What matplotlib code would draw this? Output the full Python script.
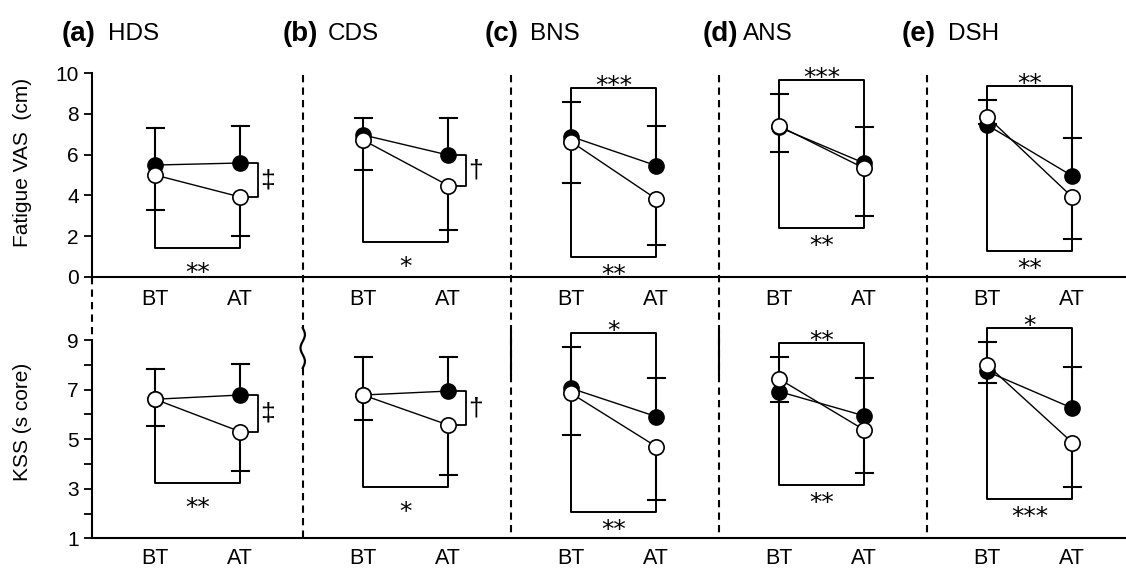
import matplotlib.pyplot as plt
import numpy as np
import matplotlib.transforms as mtransforms
from matplotlib.lines import Line2D

plt.rcParams['font.family'] = ['Liberation Sans', 'DejaVu Sans']

# panels
panel_tags = ['(a)', '(b)', '(c)', '(d)', '(e)']
panel_names = ['HDS', 'CDS', 'BNS', 'ANS', 'DSH']
times = ['BT', 'AT']

# fatigue VAS (cm), [BT, AT] per panel
vas_filled = [[5.49, 5.59], [6.97, 5.98], [6.89, 5.46], [7.35, 5.58], [7.46, 4.95]]
vas_open = [[5.00, 3.92], [6.72, 4.48], [6.64, 3.82], [7.41, 5.33], [7.87, 3.91]]
vas_sd_filled = [[1.84, 1.82], [0.82, 1.81], [1.72, 1.95], [1.62, 1.77], [1.23, 1.86]]
vas_sd_open = [[1.72, 1.93], [1.47, 2.18], [2.02, 2.26], [1.26, 2.34], [0.35, 2.07]]
vas_sig_top = ['', '', '***', '***', '**']
vas_sig_bot = ['**', '*', '**', '**', '**']

# KSS (score)
kss_filled = [[6.61, 6.78], [6.78, 6.94], [7.05, 5.91], [6.92, 5.94], [7.73, 6.25]]
kss_open = [[6.61, 5.30], [6.78, 5.57], [6.85, 4.70], [7.43, 5.37], [8.00, 4.86]]
kss_sd_filled = [[1.21, 1.25], [1.55, 1.39], [1.68, 1.55], [1.41, 1.52], [1.17, 1.65]]
kss_sd_open = [[1.07, 1.57], [1.01, 2.02], [1.68, 2.15], [0.92, 1.75], [0.74, 1.78]]
kss_sig_top = ['', '', '*', '**', '*']
kss_sig_bot = ['**', '*', '**', '**', '***']

# group difference at AT
group_sig = ['\u2021', '\u2020', '', '', '']

W, H = 1126, 571
fig = plt.figure(figsize=(W / 100, H / 100), dpi=100)


def fx(px):
    return px / W


def fy(py):
    return 1 - py / H


ax_top = fig.add_axes([fx(92), fy(276.7), fx(W - 92), (276.7 - 73.3) / H])
ax_bot = fig.add_axes([fx(92), fy(538.3), fx(W - 92), (538.3 - 340) / H])

x_bt = np.arange(5)
x_at = x_bt + 0.41
xlim = (-0.303, 4.668)
ppx = (W - 92) / (xlim[1] - xlim[0])   # pixels per x unit
cap = 8.5 / ppx
star_fs = 18


def stars(ax, s, x, yc):
    # place asterisk glyphs centred on yc
    ax.annotate(s, (x, yc), xytext=(0, -0.6 * star_fs), textcoords='offset points',
                ha='center', va='baseline', fontsize=star_fs, family='DejaVu Sans',
                annotation_clip=False)


def draw(ax, filled, opened, sd_f, sd_o, sig_top, sig_bot, ylim, ppy):
    for i in range(5):
        xs = [x_bt[i], x_at[i]]
        # error bars: filled up, open down
        for j in range(2):
            up = filled[i][j] + sd_f[i][j]
            lo = opened[i][j] - sd_o[i][j]
            ax.plot([xs[j], xs[j]], [filled[i][j], up], color='k', lw=1.5, zorder=2)
            ax.plot([xs[j] - cap, xs[j] + cap], [up, up], color='k', lw=1.5, zorder=2)
            ax.plot([xs[j], xs[j]], [opened[i][j], lo], color='k', lw=1.5, zorder=2)
            ax.plot([xs[j] - cap, xs[j] + cap], [lo, lo], color='k', lw=1.5, zorder=2)
        ax.plot(xs, filled[i], '-o', color='k', lw=1.0, ms=11, mfc='k', mec='k', zorder=3)
        ax.plot(xs, opened[i], '-o', color='k', lw=1.0, ms=11, mfc='white', mec='k',
                mew=1.2, zorder=4)

        ups = [filled[i][j] + sd_f[i][j] for j in range(2)]
        los = [opened[i][j] - sd_o[i][j] for j in range(2)]
        xm = (xs[0] + xs[1]) / 2

        if sig_top[i]:
            lev = max(ups) + 14 / ppy
            ax.plot([xs[0], xs[0], xs[1], xs[1]], [ups[0], lev, lev, ups[1]],
                    color='k', lw=1.4, zorder=2, clip_on=False)
            stars(ax, sig_top[i], xm, lev + 10 / ppy)
        if sig_bot[i]:
            lev = min(los) - 12 / ppy
            gap = 17 if group_sig[i] else 10
            ax.plot([xs[0], xs[0], xs[1], xs[1]], [los[0], lev, lev, los[1]],
                    color='k', lw=1.4, zorder=2, clip_on=False)
            stars(ax, sig_bot[i], xm, lev - gap / ppy)
        if group_sig[i]:
            x0 = xs[1] + 8 / ppx
            x1 = xs[1] + 18 / ppx
            y0, y1 = filled[i][1], opened[i][1]
            ax.plot([x0, x1, x1, x0], [y0, y0, y1, y1], color='k', lw=1.3, zorder=2)
            ax.annotate(group_sig[i], (xs[1] + 27 / ppx, (y0 + y1) / 2),
                        xytext=(0, -0.27 * 19), textcoords='offset points',
                        ha='center', va='baseline', fontsize=19)

    ax.set_xlim(*xlim)
    ax.set_ylim(*ylim)
    ax.set_xticks(np.concatenate([x_bt, x_at]))
    ax.set_xticklabels(times[:1] * 5 + times[1:] * 5)
    for s in ['top', 'right']:
        ax.spines[s].set_visible(False)
    for s in ['left', 'bottom']:
        ax.spines[s].set_linewidth(1.5)
    ax.tick_params(axis='x', length=0, labelsize=15.5)
    ax.tick_params(axis='y', direction='out', length=5.5, width=1.3, labelsize=15, pad=4)


draw(ax_top, vas_filled, vas_open, vas_sd_filled, vas_sd_open, vas_sig_top, vas_sig_bot,
     (0, 10), (276.7 - 73.3) / 10)
ax_top.set_yticks(range(0, 11, 2))
ax_top.tick_params(axis='x', pad=9)

draw(ax_bot, kss_filled, kss_open, kss_sd_filled, kss_sd_open, kss_sig_top, kss_sig_bot,
     (1, 9), (538.3 - 340) / 8)
ax_bot.set_yticks(range(1, 10))
ax_bot.set_yticklabels([str(v) if v % 2 else '' for v in range(1, 10)])
ax_bot.tick_params(axis='x', pad=7)

# panel separators
trans = mtransforms.blended_transform_factory(ax_top.transData, fig.transFigure)
dash = (0, (3.5, 2.5))
for i in range(1, 5):
    xs = x_bt[i] - 0.29
    if i == 1:
        fig.add_artist(Line2D([xs, xs], [fy(75), fy(328)], transform=trans, ls=dash, lw=1.5, color='k'))
        fig.add_artist(Line2D([xs, xs], [fy(368), fy(538.3)], transform=trans, ls=dash, lw=1.5, color='k'))
        t = np.linspace(0, 1, 60)
        fig.add_artist(Line2D(xs + 2.2 / ppx * np.sin(t * 3 * np.pi), fy(328 + 40 * t),
                              transform=trans, lw=1.6, color='k'))
    else:
        fig.add_artist(Line2D([xs, xs], [fy(75), fy(538.3)], transform=trans, ls=dash, lw=1.5, color='k'))
    if i in (2, 3):
        fig.add_artist(Line2D([xs, xs], [fy(332), fy(375)], transform=trans, lw=1.5, color='k'))
fig.add_artist(Line2D([xlim[0], xlim[0]], [fy(276.7), fy(340)], transform=trans, ls=dash,
                      lw=1.5, color='k'))

# titles
tag_x = [62, 283, 485, 703, 902]
name_x = [108, 328, 530, 743, 948]
for i in range(5):
    fig.text(fx(tag_x[i]), fy(34), panel_tags[i], fontsize=20, fontweight='bold', va='center')
    fig.text(fx(name_x[i]), fy(34), panel_names[i], fontsize=17.5, va='center')

fig.text(fx(23), fy(162), 'Fatigue VAS  (cm)', rotation=90, ha='center', va='center', fontsize=15)
fig.text(fx(23), fy(422), 'KSS (s core)', rotation=90, ha='center', va='center', fontsize=15)

fig.savefig('out.png', dpi=100)
